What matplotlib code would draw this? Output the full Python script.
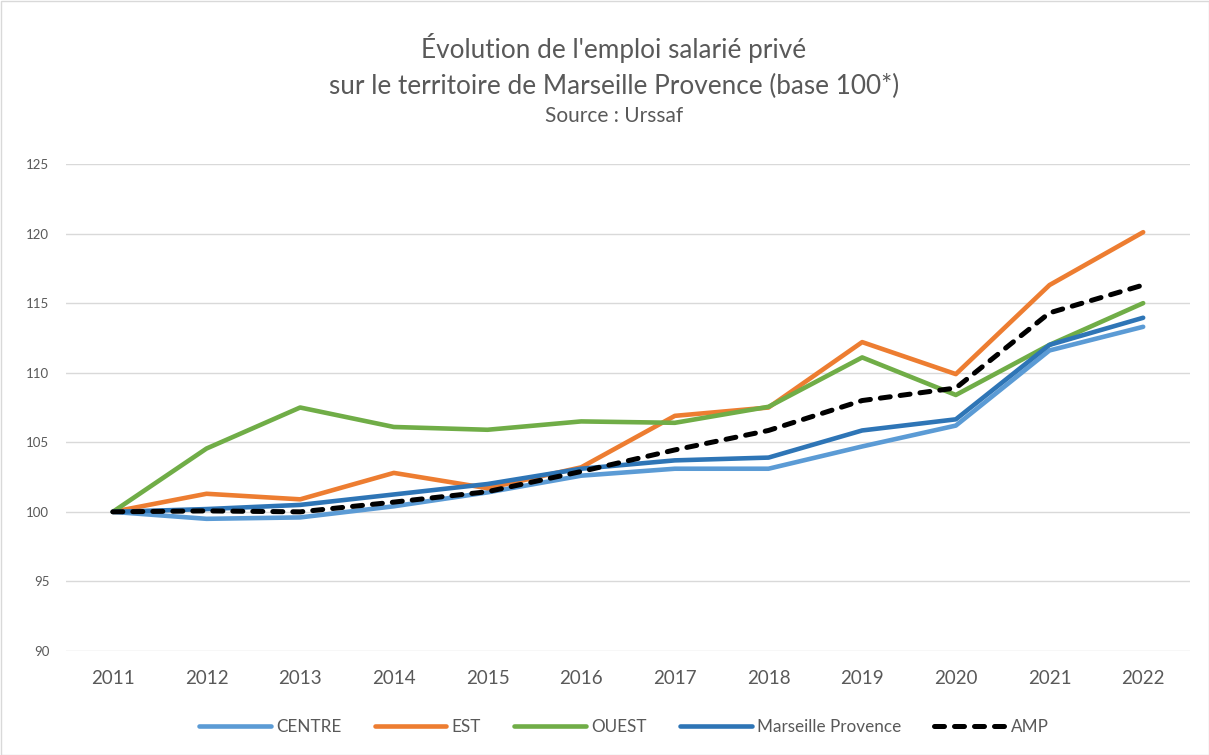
import matplotlib
matplotlib.use("Agg")
import matplotlib.pyplot as plt
from matplotlib.patches import Rectangle

years = ["2011", "2012", "2013", "2014", "2015", "2016", "2017", "2018", "2019", "2020", "2021", "2022"]
centre = [100, 99.5, 99.6, 100.4, 101.4, 102.6, 103.1, 103.1, 104.7, 106.2, 111.6, 113.3]
est = [100, 101.3, 100.9, 102.8, 101.7, 103.2, 106.9, 107.5, 112.2, 109.9, 116.3, 120.1]
ouest = [100, 104.55, 107.5, 106.1, 105.9, 106.5, 106.4, 107.55, 111.1, 108.4, 112.0, 115.0]
marseille = [100, 100.2, 100.5, 101.25, 102.0, 103.1, 103.7, 103.9, 105.85, 106.65, 112.0, 113.95]
amp = [100, 100.07, 100.0, 100.7, 101.45, 102.9, 104.45, 105.85, 108.0, 108.9, 114.3, 116.3]
yticks = [90, 95, 100, 105, 110, 115, 120, 125]

plt.rcParams['font.family'] = ['Lato', 'DejaVu Sans']
txt = '#595959'

fig = plt.figure(figsize=(12.09, 7.55), dpi=100)
fig.patches.append(Rectangle((0.5/1209, 0.5/755), 1 - 1/1209, 1 - 1/755, transform=fig.transFigure,
                             fill=False, edgecolor='#D9D9D9', linewidth=1))
ax = fig.add_axes([66/1209, 1 - 651/755, (1190 - 66)/1209, (651 - 164)/755])

x = list(range(len(years)))
lw = 3.3
ax.plot(x, centre, color='#5B9BD5', lw=lw, label='CENTRE', solid_capstyle='round', solid_joinstyle='round')
ax.plot(x, est, color='#ED7D31', lw=lw, label='EST', solid_capstyle='round', solid_joinstyle='round')
ax.plot(x, ouest, color='#70AD47', lw=lw, label='OUEST', solid_capstyle='round', solid_joinstyle='round')
ax.plot(x, marseille, color='#2E75B6', lw=lw, label='Marseille Provence', solid_capstyle='round', solid_joinstyle='round')
ax.plot(x, amp, color='black', lw=3.6, label='AMP', linestyle=(0, (2.0, 2.0)), dash_capstyle='round')

ax.set_xlim(-0.5, len(years) - 0.5)
ax.set_ylim(90, 125)
ax.set_yticks(yticks)
ax.set_yticklabels([str(v) for v in yticks])
ax.set_xticks(x)
ax.set_xticklabels(years)
ax.grid(axis='y', color='#D9D9D9', lw=1)
ax.set_axisbelow(True)
for s in ax.spines.values():
    s.set_visible(False)
ax.tick_params(axis='both', length=0, colors=txt)
ax.tick_params(axis='y', labelsize=9.5, pad=12)
ax.tick_params(axis='x', labelsize=13.5, pad=14)

cx = 614 / 1209
fig.text(cx, 1 - 48/755, "Évolution de l'emploi salarié privé", ha='center', va='center', fontsize=18.8, color=txt)
fig.text(cx, 1 - 86/755, "sur le territoire de Marseille Provence (base 100*)", ha='center', va='center', fontsize=18.8, color=txt)
fig.text(cx, 1 - 116/755, "Source : Urssaf", ha='center', va='center', fontsize=15, color=txt)

leg = fig.legend(loc='center', bbox_to_anchor=(624/1209, 1 - 727/755), ncol=5, frameon=False,
                 fontsize=12.3, handlelength=4.2, columnspacing=1.95, handletextpad=0.3)
for t in leg.get_texts():
    t.set_color(txt)

fig.savefig('out.png', dpi=100)
